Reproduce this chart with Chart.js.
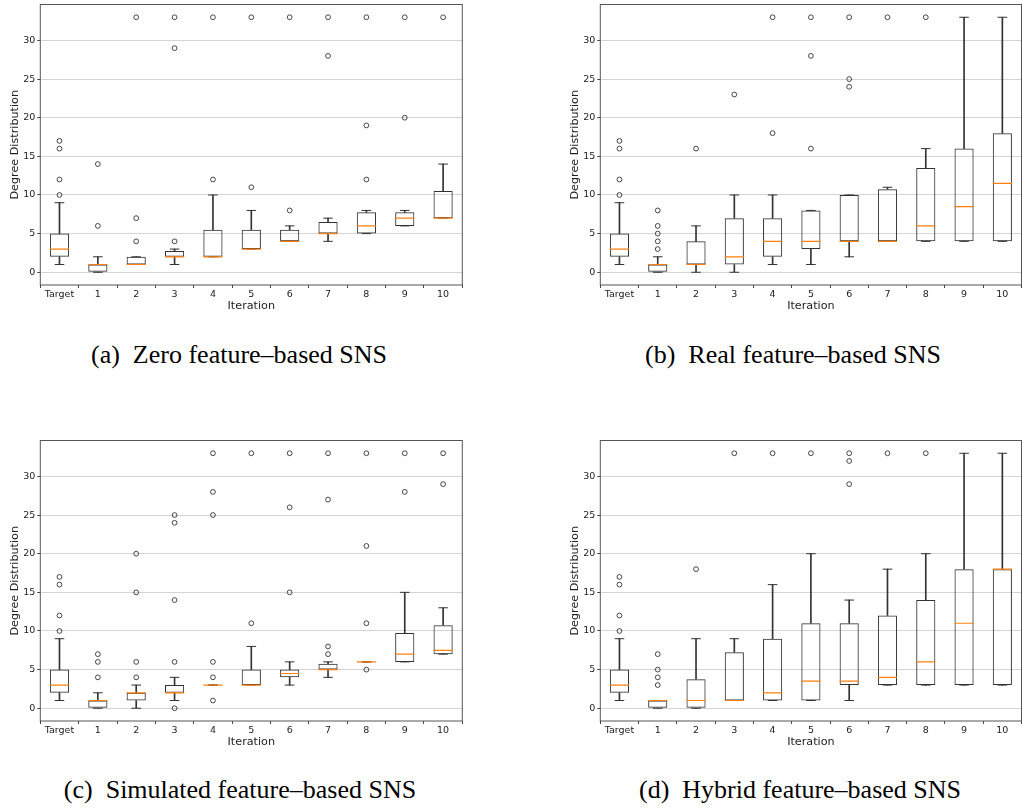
<!DOCTYPE html>
<html>
<head>
<meta charset="utf-8">
<script src="https://cdn.jsdelivr.net/npm/chart.js@4.4.1/dist/chart.umd.min.js"></script>
<style>
  body { margin: 0; background: #fff; }
  #page { position: relative; width: 1022px; height: 810px; overflow: hidden; }
  canvas { position: absolute; }
  .cap {
    position: absolute; width: 500px; text-align: center;
    font-family: "Liberation Serif", serif; font-size: 26px; line-height: 26px;
    color: #000; white-space: pre;
  }
</style>
</head>
<body>
<div id="page">
  <canvas id="zeroChart" width="470" height="320" style="left:0;top:0"></canvas>
  <canvas id="realChart" width="462" height="320" style="left:560px;top:0"></canvas>
  <canvas id="simChart" width="470" height="320" style="left:0;top:436px"></canvas>
  <canvas id="hybChart" width="462" height="320" style="left:560px;top:436px"></canvas>
  <div class="cap" style="left:-11px;top:342px">(a)  Zero feature–based SNS</div>
  <div class="cap" style="left:543px;top:342px">(b)  Real feature–based SNS</div>
  <div class="cap" style="left:-10px;top:777px">(c)  Simulated feature–based SNS</div>
  <div class="cap" style="left:550px;top:777px">(d)  Hybrid feature–based SNS</div>
</div>
<script>
const labels = ["Target", "1", "2", "3", "4", "5", "6", "7", "8", "9", "10"];
const yTicks = [0, 5, 10, 15, 20, 25, 30];

// (a) zero feature
const zeroQ1 = [2, 0, 1, 2, 2, 3, 4, 5, 5, 6, 7];
const zeroQ3 = [5, 1, 2, 2.75, 5.5, 5.5, 5.5, 6.5, 7.75, 7.75, 10.5];
const zeroMed = [3, 1, 1, 2, 2, 3, 4, 5, 6, 7, 7];
const zeroLo = [1, 0, 1, 1, 2, 3, 4, 4, 5, 6, 7];
const zeroHi = [9, 2, 2, 3, 10, 8, 6, 7, 8, 8, 14];
const zeroOut = [[10, 12, 16, 17], [6, 14], [4, 7, 33], [4, 29, 33], [12, 33], [11, 33], [8, 33], [28, 33], [12, 19, 33], [20, 33], [33]];

// (b) real feature
const realQ1 = [2, 0, 1, 1, 2, 3, 4, 4, 4, 4, 4];
const realQ3 = [5, 1, 4, 7, 7, 8, 10, 10.75, 13.5, 16, 18];
const realMed = [3, 1, 1, 2, 4, 4, 4, 4, 6, 8.5, 11.5];
const realLo = [1, 0, 0, 0, 1, 1, 2, 4, 4, 4, 4];
const realHi = [9, 2, 6, 10, 10, 8, 10, 11, 16, 33, 33];
const realOut = [[10, 12, 16, 17], [3, 4, 5, 6, 8], [16], [23], [18, 33], [16, 28, 33], [24, 25, 33], [33], [33], [], []];

// (c) simulated feature
const simQ1 = [2, 0, 1, 2, 3, 3, 4, 5, 6, 6, 7];
const simQ3 = [5, 1, 2, 3, 3, 5, 5, 5.75, 6, 9.75, 10.75];
const simMed = [3, 1, 2, 2, 3, 3, 4.5, 5, 6, 7, 7.5];
const simLo = [1, 0, 0, 1, 3, 3, 3, 4, 6, 6, 7];
const simHi = [9, 2, 3, 4, 3, 8, 6, 6, 6, 15, 13];
const simOut = [[10, 12, 16, 17], [4, 6, 7], [4, 6, 15, 20], [0, 6, 14, 24, 25], [1, 4, 6, 25, 28, 33], [11, 33], [15, 26, 33], [7, 8, 27, 33], [5, 11, 21, 33], [28, 33], [29, 33]];

// (d) hybrid feature
const hybQ1 = [2, 0, 0, 1, 1, 1, 3, 3, 3, 3, 3];
const hybQ3 = [5, 1, 3.75, 7.25, 9, 11, 11, 12, 14, 18, 18];
const hybMed = [3, 1, 1, 1, 2, 3.5, 3.5, 4, 6, 11, 18];
const hybLo = [1, 0, 0, 1, 1, 1, 1, 3, 3, 3, 3];
const hybHi = [9, 1, 9, 9, 16, 20, 14, 18, 20, 33, 33];
const hybOut = [[10, 12, 16, 17], [3, 4, 5, 7], [18], [33], [33], [33], [29, 32, 33], [33], [33], [], []];

const ink = "#333";
const tickFont = { family: "DejaVu Sans", size: 9.5 };
const titleFont = { family: "DejaVu Sans", size: 11.2 };

// axes frame on all four sides, like matplotlib
const framePlugin = {
  id: "frame",
  afterDraw(chart) {
    const { ctx, chartArea: a } = chart;
    ctx.save();
    ctx.strokeStyle = "#555";
    ctx.lineWidth = 1;
    ctx.strokeRect(a.left, a.top, a.right - a.left, a.bottom - a.top);
    ctx.restore();
  }
};

function boxChart(id, q1, q3, med, lo, hi, out, padRight) {
  const fliers = [];
  out.forEach((vals, i) => vals.forEach(v => fliers.push({ x: labels[i], y: v })));

  new Chart(document.getElementById(id), {
    type: "bar",
    data: {
      labels: labels,
      datasets: [
        { // median
          type: "line", showLine: false, data: med, order: 0,
          pointStyle: "line", pointRadius: 9.6, pointBorderColor: "#ff7f0e", pointBorderWidth: 1.2
        },
        { // outliers
          type: "line", showLine: false, data: fliers, order: 1,
          pointStyle: "circle", pointRadius: 2.4, pointBorderWidth: 0.9,
          pointBorderColor: ink, pointBackgroundColor: "rgba(0,0,0,0)"
        },
        { // upper caps
          type: "line", showLine: false, data: hi, order: 2,
          pointStyle: "line", pointRadius: 4.8, pointBorderColor: ink, pointBorderWidth: 1
        },
        { // lower caps
          type: "line", showLine: false, data: lo, order: 2,
          pointStyle: "line", pointRadius: 4.8, pointBorderColor: ink, pointBorderWidth: 1
        },
        { // boxes
          data: q1.map((v, i) => [v, q3[i]]), order: 3, grouped: false,
          backgroundColor: "rgba(0,0,0,0)", borderColor: ink, borderWidth: 1, borderSkipped: false,
          barPercentage: 0.5, categoryPercentage: 1
        },
        { // upper whiskers
          data: q3.map((v, i) => [v, hi[i]]), order: 4, grouped: false,
          backgroundColor: ink, barThickness: 1
        },
        { // lower whiskers
          data: lo.map((v, i) => [v, q1[i]]), order: 4, grouped: false,
          backgroundColor: ink, barThickness: 1
        }
      ]
    },
    options: {
      responsive: false,
      animation: false,
      events: [],
      layout: { autoPadding: false, padding: { top: 4.5, right: padRight, left: 0, bottom: 0 } },
      plugins: { legend: { display: false }, tooltip: { enabled: false } },
      scales: {
        x: {
          type: "category",
          offset: true,
          border: { display: false },
          grid: { drawOnChartArea: false, tickLength: 3, tickColor: "#444" },
          ticks: { font: tickFont, color: "#222", padding: 1, maxRotation: 0, autoSkip: false },
          title: { display: true, text: "Iteration", font: titleFont, color: "#222", padding: { top: 0, bottom: 7 } },
          afterFit(s) { s.height = 35; s.paddingLeft = 0; s.paddingRight = 0; }
        },
        y: {
          min: -1.65,
          max: 34.65,
          border: { display: false },
          afterBuildTicks(s) { s.ticks = yTicks.map(v => ({ value: v })); },
          grid: { color: "#d4d4d4", lineWidth: 1, tickLength: 3, tickColor: "#444" },
          ticks: { font: tickFont, color: "#222", padding: 2 },
          title: { display: true, text: "Degree Distribution", font: titleFont, color: "#222", padding: { top: 8.3, bottom: 0 } },
          afterFit(s) { s.width = 40.3; s.paddingTop = 0; s.paddingBottom = 0; }
        }
      }
    },
    plugins: [framePlugin]
  });
}

boxChart("zeroChart", zeroQ1, zeroQ3, zeroMed, zeroLo, zeroHi, zeroOut, 7.7);
boxChart("realChart", realQ1, realQ3, realMed, realLo, realHi, realOut, 0.5);
boxChart("simChart", simQ1, simQ3, simMed, simLo, simHi, simOut, 7.7);
boxChart("hybChart", hybQ1, hybQ3, hybMed, hybLo, hybHi, hybOut, 0.5);
</script>
</body>
</html>
